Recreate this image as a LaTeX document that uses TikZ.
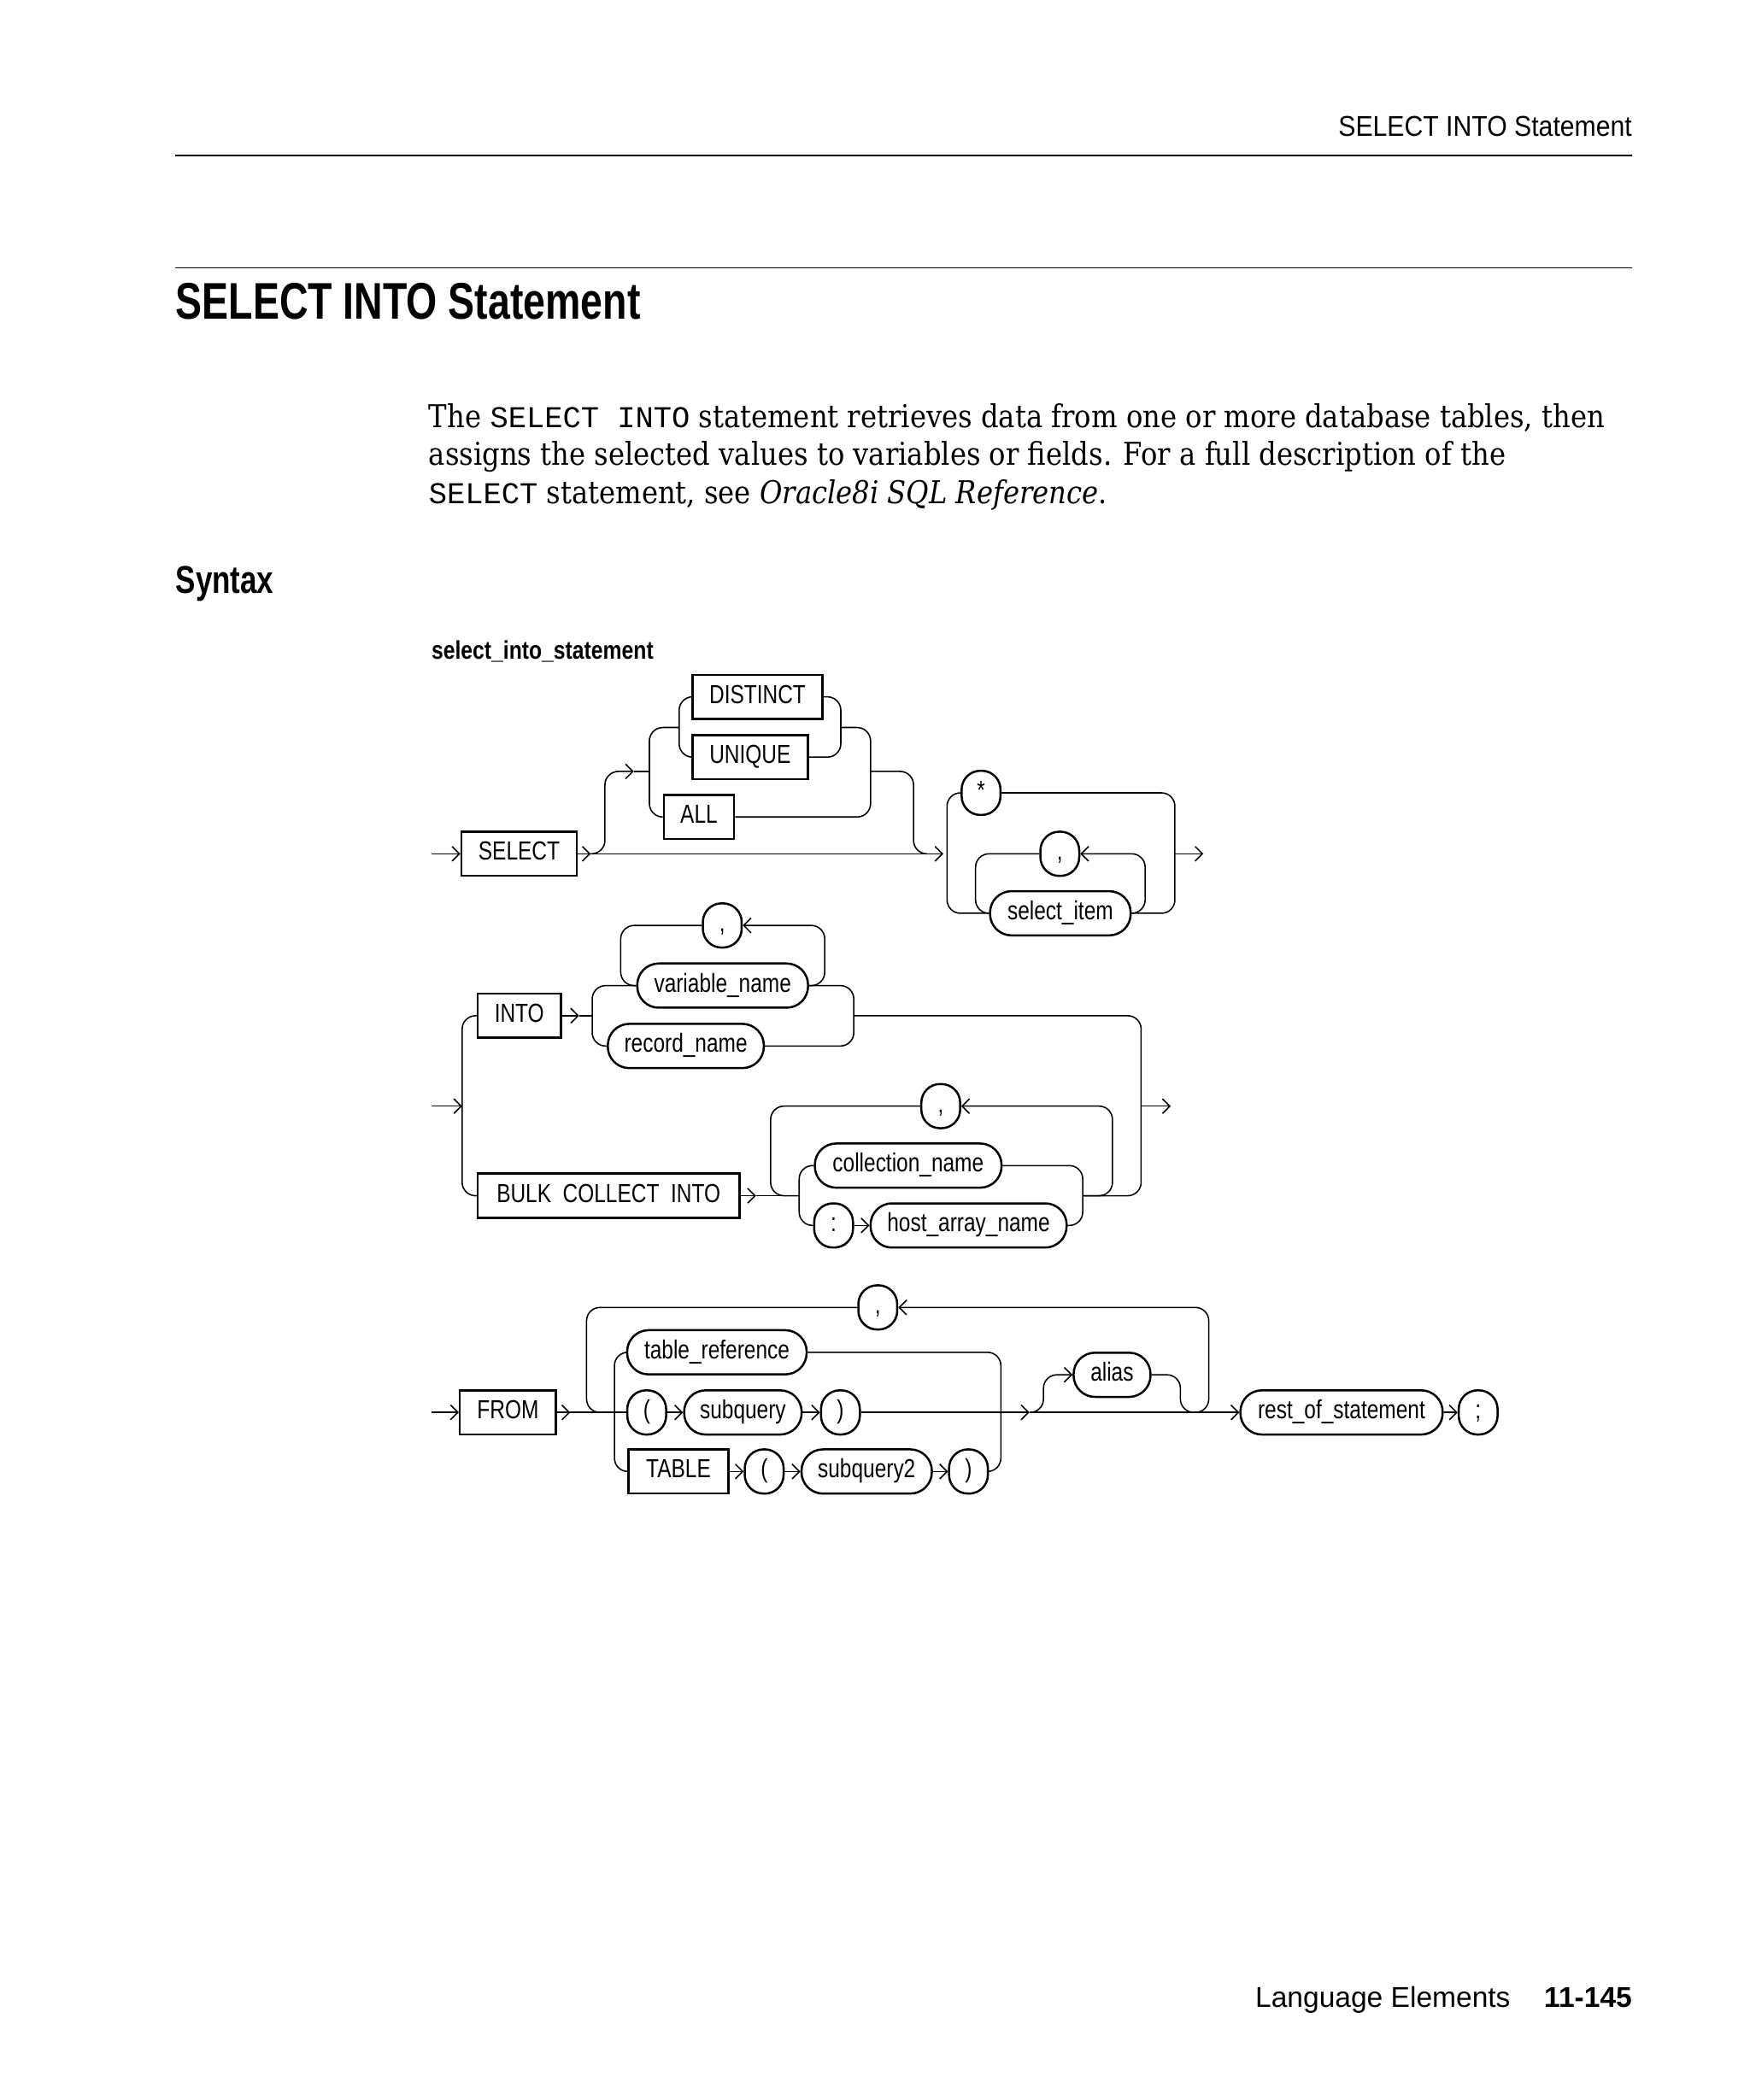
\documentclass[tikz,border=0pt]{standalone}
\usepackage{fontspec}
\usetikzlibrary{arrows.meta}
\newfontfamily\rrfont[FakeStretch=0.8]{Liberation Sans}
\newfontfamily\rrbfont[FakeStretch=0.83]{Liberation Sans}
\newfontfamily\hdrfont[FakeStretch=0.9]{Liberation Sans}
\newfontfamily\ttlfont[FakeStretch=0.77]{Liberation Sans}
\newfontfamily\ftfont{Liberation Sans}
\newfontfamily\bodyfont[FakeStretch=0.875]{DejaVu Serif}
\newfontfamily\codefont{Liberation Mono}
\newcommand{\mycode}[1]{{\codefont\fontsize{22.6}{22.6}\selectfont #1}}
\tikzset{
 conn/.style={line width=1pt, rounded corners=10pt},
 arr/.style={conn, -{Straight Barb[length=5.5pt,width=11pt]}},
 kw/.style={draw, line width=1.6pt, rectangle, minimum height=33pt, inner sep=0pt,
   font=\rrfont\fontsize{19.5}{19.5}\selectfont, text height=14.2pt, text depth=4.5pt},
 nt/.style={kw, rounded corners=16pt},
 ch/.style={kw, rounded corners=14pt, minimum width=29pt},
 txt/.style={inner sep=0pt},
}
\begin{document}
\begin{tikzpicture}[x=1pt,y=-1pt]
\fill[white] (0,0) rectangle (1306,1568);
\useasboundingbox (0,0) rectangle (1306,1568);

% ---------- page text ----------
\node[txt, anchor=base east, font=\hdrfont\fontsize{21.4}{21.4}\selectfont] (hd) at (1218.5,102) {SELECT INTO Statement};
\draw[line width=1.3pt] (131,116) -- (1218.5,116);
\draw[line width=1pt] (131,200) -- (1218.5,200);
\node[txt, anchor=base west, font=\ttlfont\bfseries\fontsize{38.5}{38.5}\selectfont] (ttl) at (131,238.5) {SELECT INTO Statement};
\node[txt, anchor=base west, font=\bodyfont\fontsize{23.5}{23.5}\selectfont] (p1) at (320,319) {The \mycode{SELECT}\mycode{ }\mycode{INTO} statement retrieves data from one or more database tables, then};
\node[txt, anchor=base west, font=\bodyfont\fontsize{23.5}{23.5}\selectfont] (p2) at (320,347.5) {assigns the selected values to variables or fields. For a full description of the};
\node[txt, anchor=base west, font=\bodyfont\fontsize{23.5}{23.5}\selectfont] (p3) at (320,376) {\mycode{SELECT} statement, see \textit{Oracle8i SQL Reference}.};
\node[txt, anchor=base west, font=\ttlfont\bfseries\fontsize{29}{29}\selectfont] (syn) at (131,443) {Syntax};
\node[txt, anchor=base west, font=\rrbfont\bfseries\fontsize{19}{19}\selectfont] (dname) at (322,492) {select\_into\_statement};
\node[txt, anchor=base west, font=\ftfont\fontsize{21.4}{21.4}\selectfont] (ft1) at (937,1499) {Language Elements};
\node[txt, anchor=base east, font=\ftfont\bfseries\fontsize{21.4}{21.4}\selectfont] (ft2) at (1218.5,1499) {11-145};

% ---------- row 1 ----------
\node[kw,minimum width=86pt] (sel) at (387.5,637.5) {SELECT};
\node[kw,minimum width=97pt] (dist) at (565.5,520.3) {DISTINCT};
\node[kw,minimum width=86pt] (uniq) at (560,565.3) {UNIQUE};
\node[kw,minimum width=52.5pt] (all) at (521.8,610) {ALL};
\node[ch] (star) at (732.4,592) {*};
\node[ch] (c1) at (791.2,637.5) {,};
\node[nt,minimum width=105pt] (si) at (791.6,681.9) {select\_item};

\coordinate (r1in) at (322,637.5);
\coordinate (r1a) at (441,637.5);
\coordinate (r1b) at (473.2,576);
\coordinate (xbu) at (451.6,0);
\coordinate (xol) at (484.8,0);
\coordinate (xil) at (507,0);
\coordinate (xir) at (627.7,0);
\coordinate (xor) at (649.9,0);
\coordinate (xdn) at (682,0);
\coordinate (ymid) at (0,543.2);
\coordinate (ybr) at (0,576);
\coordinate (r1j) at (692,637.5);
\coordinate (r1g) at (704.2,637.5);
\coordinate (xgl) at (707,0);
\coordinate (xll) at (728.3,0);
\coordinate (xlr) at (854.9,0);
\coordinate (xgr) at (877.1,0);
\coordinate (r1out) at (898.4,637.5);

\draw[arr] (r1in) -- (sel.west);
\draw[arr] (sel.east) -- (r1a);
\draw[arr] (r1a) -- (r1g);
\draw[arr] (r1a) -| (xbu |- ybr) -- (r1b);
\draw[conn] (r1b) -- (xol |- ybr);
\draw[conn] (xil |- ymid) -- (xol |- ymid) -- (xol |- all.west) -- (all.west);
\draw[conn] (dist.west) -- (xil |- dist.west) -- (xil |- uniq.west) -- (uniq.west);
\draw[conn] (dist.east) -- (xir |- dist.east) -- (xir |- uniq.east) -- (uniq.east);
\draw[conn] (xir |- ymid) -- (xor |- ymid) -- (xor |- all.east) -- (all.east);
\draw[conn] (xor |- ybr) -- (xdn |- ybr) -- (xdn |- r1j) -- (r1j);

\draw[conn] (star.west) -- (xgl |- star.west) -- (xgl |- si.west) -- (si.west);
\draw[conn] (c1.west) -- (xll |- c1.west) -- (xll |- si.west) -- (si.west);
\draw[arr] (si.east) -- (xlr |- si.east) -- (xlr |- c1.east) -- (c1.east);
\draw[conn] (star.east) -- (xgr |- star.east) -- (xgr |- si.east) -- (si.east);
\draw[arr] (xgr |- r1out) -- (r1out);

% ---------- row 2 ----------
\node[kw,minimum width=62pt] (into) at (387.7,758.4) {INTO};
\node[kw,minimum width=195.4pt] (bulk) at (454.3,892.8) {BULK\ \ COLLECT\ \ INTO};
\node[nt,minimum width=127.5pt] (vn) at (539.5,735.9) {variable\_name};
\node[nt,minimum width=116.5pt] (rn) at (512,781) {record\_name};
\node[ch] (c2) at (539.2,691) {,};
\node[nt,minimum width=139.4pt] (cn) at (678,870.3) {collection\_name};
\node[ch] (colon) at (622.3,915) {:};
\node[nt,minimum width=146.4pt] (hn) at (723.1,915) {host\_array\_name};
\node[ch] (c3) at (702.3,825.9) {,};

\coordinate (r2in) at (322.4,825.9);
\coordinate (r2l) at (345,825.9);
\coordinate (x2l) at (345,0);
\coordinate (r2a) at (432.3,758.4);
\coordinate (x2bl) at (442.1,0);
\coordinate (x2ll) at (463.4,0);
\coordinate (x2lr) at (615.7,0);
\coordinate (x2br) at (637.4,0);
\coordinate (x2r) at (851.9,0);
\coordinate (r2out) at (874,825.9);
\coordinate (r2b) at (564.4,892.8);
\coordinate (x3ll) at (575.3,0);
\coordinate (x3bl) at (596.6,0);
\coordinate (x3br) at (808.3,0);
\coordinate (x3lr) at (830.5,0);

\draw[arr] (r2in) -- (r2l);
\draw[conn] (into.west) -- (x2l |- into.west) -- (x2l |- bulk.west) -- (bulk.west);
\draw[arr] (into.east) -- (r2a);
\draw[conn] (r2a) -- (x2bl |- r2a);
\draw[conn] (vn.west) -- (x2bl |- vn.west) -- (x2bl |- rn.west) -- (rn.west);
\draw[conn] (c2.west) -- (x2ll |- c2.west) -- (x2ll |- vn.west) -- (vn.west);
\draw[arr] (vn.east) -- (x2lr |- vn.east) -- (x2lr |- c2.east) -- (c2.east);
\draw[conn] (vn.east) -- (x2br |- vn.east) -- (x2br |- rn.east) -- (rn.east);
\draw[conn] (x2br |- r2a) -- (x2r |- r2a) -- (x2r |- r2b) -- (x3br |- r2b);
\draw[arr] (x2r |- r2out) -- (r2out);
\draw[arr] (bulk.east) -- (r2b);
\draw[conn] (r2b) -- (x3bl |- r2b);
\draw[conn] (c3.west) -- (x3ll |- c3.west) -- (x3ll |- r2b) -- (x3bl |- r2b);
\draw[conn] (cn.west) -- (x3bl |- cn.west) -- (x3bl |- colon.west) -- (colon.west);
\draw[conn] (cn.east) -- (x3br |- cn.east) -- (x3br |- hn.east) -- (hn.east);
\draw[arr] (x3br |- r2b) -- (x3lr |- r2b) -- (x3lr |- c3.east) -- (c3.east);
\draw[arr] (colon.east) -- (hn.west);

% ---------- row 3 ----------
\node[kw,minimum width=71.7pt] (from) at (379.2,1054.6) {FROM};
\node[ch] (c4) at (655.3,976.2) {,};
\node[nt,minimum width=134pt] (tr) at (535.2,1009.7) {table\_reference};
\node[ch] (lp1) at (482.8,1054.6) {(};
\node[nt,minimum width=87.7pt] (sq) at (554.6,1054.6) {subquery};
\node[ch] (rp1) at (627.4,1054.6) {)};
\node[kw,minimum width=74.4pt] (tbl) at (506.5,1098.7) {TABLE};
\node[ch] (lp2) at (570.5,1098.7) {(};
\node[nt,minimum width=97.3pt] (sq2) at (647,1098.7) {subquery2};
\node[ch] (rp2) at (723,1098.7) {)};
\node[nt,minimum width=57.4pt] (al) at (830.2,1026.5) {alias};
\node[nt,minimum width=151pt] (rest) at (1001.5,1054.6) {rest\_of\_statement};
\node[ch] (semi) at (1103.5,1054.6) {;};

\coordinate (r3in) at (322,1054.6);
\coordinate (r3a) at (425.7,1054.6);
\coordinate (x4ll) at (437.9,0);
\coordinate (x4bl) at (458.7,0);
\coordinate (x4br) at (747.2,0);
\coordinate (r3m) at (768.5,1054.6);
\coordinate (x4au) at (779,0);
\coordinate (x4ad) at (881.2,0);
\coordinate (r3j) at (891.5,1054.6);
\coordinate (x4lr) at (902.4,0);

\draw[arr] (r3in) -- (from.west);
\draw[arr] (from.east) -- (r3a);
\draw[conn] (r3a) -- (lp1.west);
\draw[conn] (c4.west) -- (x4ll |- c4.west) -- (x4ll |- r3a) -- (x4bl |- r3a);
\draw[conn] (tr.west) -- (x4bl |- tr.west) -- (x4bl |- tbl.west) -- (tbl.west);
\draw[arr] (lp1.east) -- (sq.west);
\draw[arr] (sq.east) -- (rp1.west);
\draw[arr] (rp1.east) -- (r3m);
\draw[arr] (tbl.east) -- (lp2.west);
\draw[arr] (lp2.east) -- (sq2.west);
\draw[arr] (sq2.east) -- (rp2.west);
\draw[conn] (tr.east) -- (x4br |- tr.east) -- (x4br |- rp2.east) -- (rp2.east);
\draw[arr] (r3m) -- (rest.west);
\draw[arr] (r3m) -| (x4au |- al.west) -- (al.west);
\draw[conn] (al.east) -| (x4ad |- r3j) -- (r3j);
\draw[arr] (r3j) -| (x4lr |- c4.east) -- (c4.east);
\draw[arr] (rest.east) -- (semi.west);
\end{tikzpicture}
\end{document}
